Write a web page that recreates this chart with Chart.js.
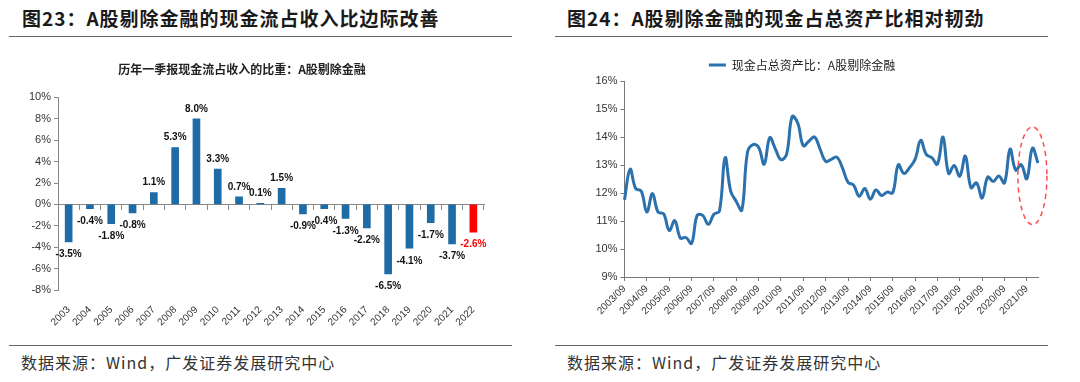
<!DOCTYPE html>
<html>
<head>
<meta charset="utf-8">
<script src="https://cdn.jsdelivr.net/npm/chart.js@4.4.0/dist/chart.umd.min.js"></script>
<style>
body{margin:0;width:1080px;height:382px;background:#fff;position:relative;overflow:hidden;font-family:"Noto Sans CJK SC",sans-serif;}
.title{position:absolute;top:6px;line-height:24px;font-size:19px;font-weight:bold;color:#1a1a1a;letter-spacing:1px;white-space:nowrap;}
.rule{position:absolute;height:0;border-top:1.5px solid #666;}
.src{position:absolute;top:351px;line-height:22px;font-size:16px;color:#333;letter-spacing:1px;white-space:nowrap;}
canvas{position:absolute;}
</style>
</head>
<body>
<div class="title" style="left:22px">图23：A股剔除金融的现金流占收入比边际改善</div>
<div class="rule" style="left:9px;width:503px;top:36px"></div>
<canvas id="barChart" width="520" height="300" style="left:0;top:40px"></canvas>
<div class="rule" style="left:9px;width:503px;top:345px"></div>
<div class="src" style="left:21px">数据来源：Wind，广发证券发展研究中心</div>

<div class="title" style="left:567px">图24：A股剔除金融的现金占总资产比相对韧劲</div>
<div class="rule" style="left:555px;width:493px;top:36px"></div>
<canvas id="lineChart" width="500" height="300" style="left:566px;top:40px"></canvas>
<div class="rule" style="left:555px;width:493px;top:345px"></div>
<div class="src" style="left:567px">数据来源：Wind，广发证券发展研究中心</div>

<script>
// left chart: Q1 operating cash flow / revenue, A-shares ex financials
var years = ['2003','2004','2005','2006','2007','2008','2009','2010','2011','2012',
             '2013','2014','2015','2016','2017','2018','2019','2020','2021','2022'];
var cashFlowRatio = [-3.5, -0.4, -1.8, -0.8, 1.1, 5.3, 8.0, 3.3, 0.7, 0.1,
                     1.5, -0.9, -0.4, -1.3, -2.2, -6.5, -4.1, -1.7, -3.7, -2.6];
var highlightYear = '2022';
var barTicks = {min: -8, max: 10, step: 2};

// right chart: cash / total assets, quarterly from 2003/09 to 2022/03
var cashToAssets = [
  11.76, 12.85, 12.16, 12.07, 11.32, 11.98, 11.32, 11.26, 10.66, 11.01,
  10.39, 10.41, 10.20, 11.20, 11.20, 10.88, 11.24, 11.36, 13.26, 12.07,
  11.70, 11.39, 13.45, 13.73, 13.63, 13.03, 13.98, 13.57, 13.19, 13.38,
  14.73, 14.50, 13.69, 13.85, 14.00, 13.57, 13.13, 13.20, 13.28, 12.90,
  12.38, 12.28, 11.88, 12.16, 11.78, 12.11, 11.91, 12.03, 12.01, 13.01,
  12.70, 12.90, 13.20, 13.88, 13.38, 13.26, 13.03, 14.00, 12.70, 12.98,
  12.60, 13.32, 12.19, 12.36, 11.82, 12.57, 12.41, 12.61, 12.36, 13.57,
  12.82, 13.01, 12.51, 13.60, 13.07];
var lineTicks = {min: 9, max: 16, step: 1};
var quarters = [];
var qMonths = ['03', '06', '09', '12'];
for (var i = 0; i < cashToAssets.length; i++) {
  var q = 2 + i;
  quarters.push((2003 + Math.floor(q / 4)) + '/' + qMonths[q % 4]);
}
// red dashed mark round the latest quarters (in quarter index / percent units)
var markFrom = 70.4, markTo = 75.6, markLow = 10.87, markHigh = 14.36;

var blue = '#1F6BA6';
var tickFont = {family: 'Liberation Sans', size: 11};

var barLabels = {
  id: 'barLabels',
  afterDatasetsDraw: function (chart) {
    var ctx = chart.ctx;
    var meta = chart.getDatasetMeta(0);
    ctx.save();
    ctx.font = 'bold 10px "Liberation Sans"';
    ctx.textAlign = 'center';
    ctx.textBaseline = 'middle';
    meta.data.forEach(function (bar, i) {
      var v = cashFlowRatio[i];
      ctx.fillStyle = years[i] === highlightYear ? '#FF0000' : '#111';
      var y = v >= 0 ? bar.y - 10 : bar.y + 12.5;
      ctx.fillText(v.toFixed(1) + '%', bar.x, y);
    });
    ctx.restore();
  }
};

new Chart(document.getElementById('barChart'), {
  type: 'bar',
  data: {
    labels: years,
    datasets: [{
      data: cashFlowRatio,
      xAxisID: 'x',
      backgroundColor: years.map(function (y) { return y === highlightYear ? '#FF0000' : blue; }),
      barThickness: 7
    }]
  },
  options: {
    responsive: false,
    animation: false,
    layout: {padding: {left: 0, right: 36, top: 0, bottom: 0}},
    plugins: {
      legend: {display: false},
      tooltip: {enabled: false},
      title: {
        display: true,
        text: '历年一季报现金流占收入的比重：A股剔除金融',
        font: {family: 'Noto Sans CJK SC', size: 12, weight: 'bold'},
        color: '#222',
        padding: {top: 22, bottom: 21}
      }
    },
    scales: {
      x: {
        ticks: {minRotation: 45, maxRotation: 45, autoSkip: false, font: {family: 'Liberation Sans', size: 10}, color: '#333', padding: 6},
        grid: {display: false},
        border: {display: false},
        afterFit: function (s) { s.height = 50; }
      },
      x0: {
        type: 'category',
        position: {y: 0},
        offset: true,
        grid: {offset: true, drawOnChartArea: false, tickLength: 5, color: '#888'},
        border: {color: '#888'},
        ticks: {display: false}
      },
      y: {
        min: barTicks.min,
        max: barTicks.max,
        ticks: {stepSize: barTicks.step, callback: function (v) { return v + '%'; }, font: tickFont, color: '#333', padding: 3},
        grid: {drawOnChartArea: false, tickLength: 4, color: '#888'},
        border: {color: '#888'},
        afterFit: function (s) { s.width = 58; }
      }
    }
  },
  plugins: [barLabels]
});

var ellipseMark = {
  id: 'ellipseMark',
  afterDatasetsDraw: function (chart) {
    var xs = chart.scales.x, ys = chart.scales.y;
    var x1 = xs.getPixelForValue(markFrom), x2 = xs.getPixelForValue(markTo);
    var y1 = ys.getPixelForValue(markHigh), y2 = ys.getPixelForValue(markLow);
    var ctx = chart.ctx;
    ctx.save();
    ctx.strokeStyle = '#FF4D4D';
    ctx.lineWidth = 1.5;
    ctx.setLineDash([5, 4]);
    ctx.beginPath();
    ctx.ellipse((x1 + x2) / 2, (y1 + y2) / 2, (x2 - x1) / 2, (y2 - y1) / 2, 0, 0, Math.PI * 2);
    ctx.stroke();
    ctx.restore();
  }
};

new Chart(document.getElementById('lineChart'), {
  type: 'line',
  data: {
    labels: quarters,
    datasets: [{
      label: '现金占总资产比：A股剔除金融',
      data: cashToAssets,
      borderColor: '#2B71AD',
      backgroundColor: '#2B71AD',
      borderWidth: 3,
      pointRadius: 0,
      tension: 0.4,
      fill: false
    }]
  },
  options: {
    responsive: false,
    animation: false,
    layout: {padding: {left: 0, right: 28, top: 0, bottom: 0}},
    plugins: {
      tooltip: {enabled: false},
      legend: {
        display: true,
        labels: {
          usePointStyle: true, pointStyle: 'line', pointStyleWidth: 17, boxHeight: 12,
          padding: 19, font: {family: 'Noto Sans CJK SC', size: 12}, color: '#222'
        }
      }
    },
    scales: {
      x: {
        offset: false,
        ticks: {
          autoSkip: false, minRotation: 45, maxRotation: 45,
          callback: function (v, i) { return i % 4 === 0 ? this.getLabelForValue(v) : ''; },
          font: {family: 'Liberation Sans', size: 10}, color: '#333', padding: 2
        },
        grid: {drawOnChartArea: false, tickLength: 4, color: function (c) { return c.index % 4 === 0 ? '#777' : 'rgba(0,0,0,0)'; }},
        border: {color: '#777'},
        afterFit: function (s) { s.height = 63; }
      },
      y: {
        min: lineTicks.min,
        max: lineTicks.max,
        ticks: {stepSize: lineTicks.step, callback: function (v) { return v + '%'; }, font: tickFont, color: '#333', padding: 3},
        grid: {drawOnChartArea: false, tickLength: 4, color: '#777'},
        border: {color: '#777'},
        afterFit: function (s) { s.width = 58.5; }
      }
    }
  },
  plugins: [ellipseMark]
});
</script>
</body>
</html>
